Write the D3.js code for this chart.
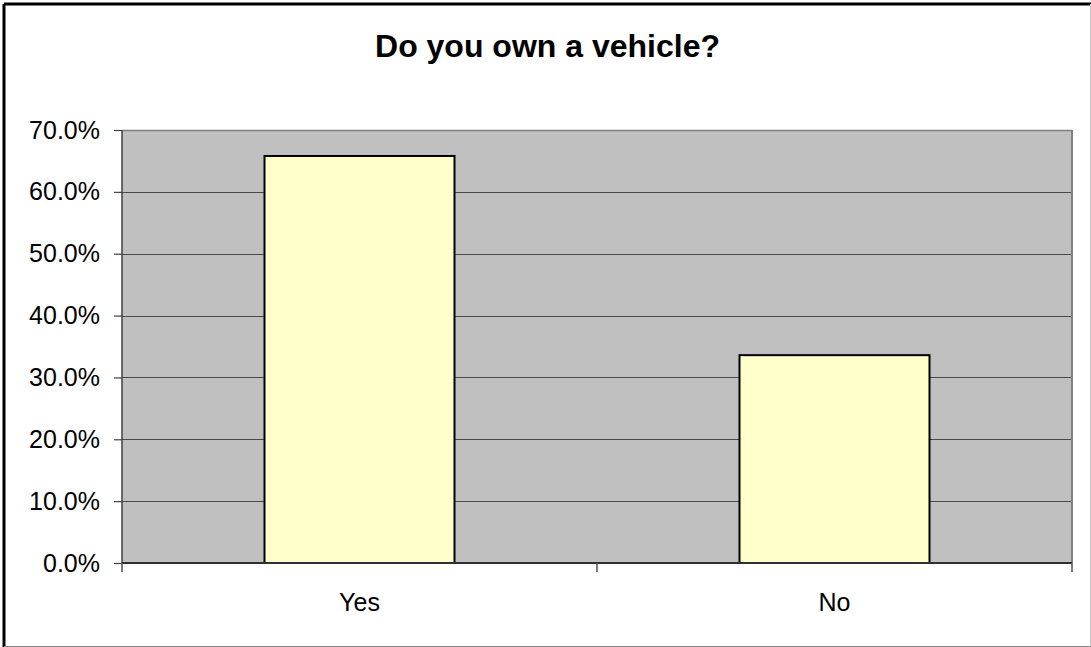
<!DOCTYPE html>
<html>
<head>
<meta charset="utf-8">
<script src="https://cdn.jsdelivr.net/npm/d3@7"></script>
<style>
  html, body { margin: 0; padding: 0; background: #fff; }
  svg { display: block; }
  text { font-family: "Liberation Sans", Arial, sans-serif; fill: #000; }
</style>
</head>
<body>
<script>
// Survey answers and share of respondents (percent)
const categories = ["Yes", "No"];
const shares = [65.8, 33.6];
const yTicks = [0, 10, 20, 30, 40, 50, 60, 70];
const title = "Do you own a vehicle?";

const W = 1091, H = 647;
const plot = { left: 122, top: 130, right: 1072, bottom: 563 };

const svg = d3.select("body").append("svg")
  .attr("width", W).attr("height", H);

// Chart frame
svg.append("line").attr("x1", 4).attr("y1", 4).attr("x2", W).attr("y2", 4)
  .attr("stroke", "#000").attr("stroke-width", 3);
svg.append("line").attr("x1", 4).attr("y1", 4).attr("x2", 4).attr("y2", H)
  .attr("stroke", "#000").attr("stroke-width", 3);
svg.append("line").attr("x1", W - 0.5).attr("y1", 4).attr("x2", W - 0.5).attr("y2", H)
  .attr("stroke", "#c8c8c8").attr("stroke-width", 1);
svg.append("line").attr("x1", 4).attr("y1", H - 0.5).attr("x2", W).attr("y2", H - 0.5)
  .attr("stroke", "#8a8a8a").attr("stroke-width", 1);

const xCat = d3.scaleBand().domain(categories).range([plot.left, plot.right]);
const y = d3.scaleLinear().domain([0, 70]).range([plot.bottom, plot.top]);

// Plot background
svg.append("rect")
  .attr("x", plot.left).attr("y", plot.top)
  .attr("width", plot.right - plot.left).attr("height", plot.bottom - plot.top)
  .attr("fill", "#c0c0c0");

// Horizontal gridlines
svg.append("g").selectAll("line").data(yTicks.filter(d => d > 0 && d < 70)).join("line")
  .attr("x1", plot.left).attr("x2", plot.right)
  .attr("y1", d => Math.round(y(d)) + 0.5).attr("y2", d => Math.round(y(d)) + 0.5)
  .attr("stroke", "#4a4a4a").attr("stroke-width", 1);

// Plot border (top and right)
svg.append("line").attr("x1", plot.left).attr("x2", plot.right)
  .attr("y1", plot.top + 0.5).attr("y2", plot.top + 0.5)
  .attr("stroke", "#808080").attr("stroke-width", 1.5);
svg.append("line").attr("x1", plot.right).attr("x2", plot.right)
  .attr("y1", plot.top).attr("y2", plot.bottom)
  .attr("stroke", "#808080").attr("stroke-width", 2);

// Bars (gap width 150% of bar width)
const barW = xCat.bandwidth() / 2.5;
svg.append("g").selectAll("rect").data(categories).join("rect")
  .attr("x", (d) => xCat(d) + (xCat.bandwidth() - barW) / 2)
  .attr("y", (d, i) => y(shares[i]))
  .attr("width", barW)
  .attr("height", (d, i) => y(0) - y(shares[i]))
  .attr("fill", "#ffffcc")
  .attr("stroke", "#000").attr("stroke-width", 2);

// Y axis
const yAxis = svg.append("g")
  .attr("transform", `translate(${plot.left},0)`)
  .call(d3.axisLeft(y).tickValues(yTicks).tickSize(8).tickPadding(14)
    .tickFormat(d => d3.format(".1f")(d) + "%"));
yAxis.select(".domain").attr("stroke", "#404040").attr("stroke-width", 1.5)
  .attr("d", `M0,${plot.top}V${plot.bottom}`);
yAxis.selectAll(".tick line").attr("stroke", "#404040").attr("stroke-width", 1.2);
yAxis.selectAll(".tick text")
  .style("font-family", "'Liberation Sans', Arial, sans-serif")
  .style("font-size", "25px").attr("fill", "#000");

// X axis with ticks at category boundaries
const xAxisG = svg.append("g");
xAxisG.append("line")
  .attr("x1", plot.left).attr("x2", plot.right)
  .attr("y1", plot.bottom).attr("y2", plot.bottom)
  .attr("stroke", "#303030").attr("stroke-width", 2);
const boundaries = categories.map(c => xCat(c)).concat([xCat(categories[categories.length - 1]) + xCat.bandwidth()]);
xAxisG.selectAll("line.tk").data(boundaries).join("line").attr("class", "tk")
  .attr("x1", d => d).attr("x2", d => d)
  .attr("y1", plot.bottom).attr("y2", plot.bottom + 9)
  .attr("stroke", "#505050").attr("stroke-width", 1.5);
xAxisG.selectAll("text").data(categories).join("text")
  .attr("x", d => xCat(d) + xCat.bandwidth() / 2)
  .attr("y", 611)
  .attr("text-anchor", "middle")
  .style("font-size", "25px")
  .text(d => d);

// Title, centred on the chart frame
svg.append("text")
  .attr("x", (4 + W) / 2)
  .attr("y", 57)
  .attr("text-anchor", "middle")
  .style("font-size", "32px").style("font-weight", "bold")
  .text(title);
</script>
</body>
</html>
